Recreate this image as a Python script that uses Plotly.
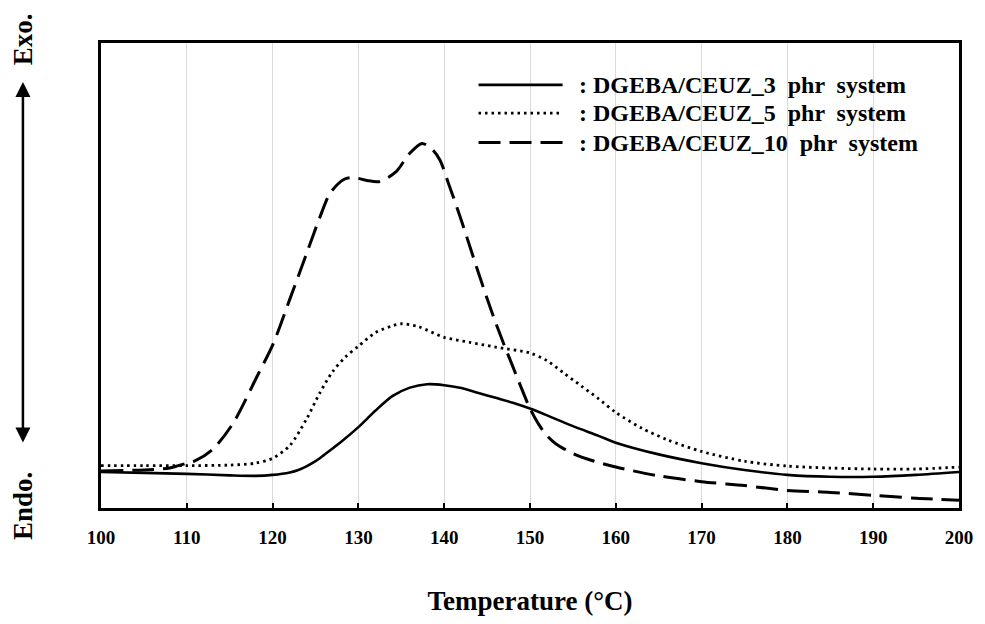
import plotly.graph_objects as go

# DSC exotherms (heat flow, arbitrary units) vs temperature
temp_3phr = [100, 105, 110, 115, 118, 120, 122, 123, 124, 125, 126, 128, 130, 132, 134, 136, 138,
             140, 142, 144, 146, 148, 150, 152, 155, 158, 160, 165, 170, 175, 180, 185,
             190, 195, 200]
flow_3phr = [7.2, 7.0, 6.8, 6.5, 6.4, 6.6, 7.1, 7.6, 8.4, 9.4, 10.7, 13.4, 16.4, 19.8, 22.8, 24.5, 25.2,
             25.0, 24.4, 23.4, 22.4, 21.4, 20.2, 18.8, 16.6, 14.6, 13.2, 10.8, 9.0, 7.6, 6.6, 6.2,
             6.2, 6.6, 7.2]

temp_5phr = [100, 105, 110, 115, 118, 120, 122, 124, 125.5, 127, 128.5, 130, 132, 134, 135,
             137, 140, 143, 146, 150, 152, 154, 156, 158, 160, 163, 166, 170, 175, 180,
             185, 190, 195, 200]
flow_5phr = [8.5, 8.5, 8.5, 8.6, 9.0, 10.0, 12.6, 18.2, 23.4, 27.8, 30.8, 33.0, 35.8, 37.2, 37.6,
             37.0, 34.8, 33.8, 32.8, 31.6, 30.0, 27.4, 24.8, 22.2, 19.4, 16.2, 13.8, 11.4, 9.4, 8.4,
             8.0, 7.8, 7.8, 8.2]

temp_10phr = [100, 105, 108, 110, 111, 113, 115.4, 118.3, 120, 122, 124, 125.5, 126.7, 128.3,
              129.4, 131, 132.5, 134.4, 135.9, 137.4, 138.6, 139.5, 140.5, 142, 143, 144, 145,
              146, 147, 148, 149, 150, 151, 152, 153, 155, 157.5, 160, 165, 170, 175, 180,
              185, 190, 195, 200]
flow_10phr = [7.4, 7.6, 8.0, 9.0, 9.5, 11.8, 17.2, 27.2, 33.2, 42.6, 52.2, 59.4, 64.4, 67.2,
              67.6, 67.0, 66.8, 68.8, 72.4, 74.6, 73.4, 71.2, 66.4, 58.8, 53.4, 48.0, 42.8,
              37.8, 33.2, 28.8, 24.4, 20.2, 17.0, 14.6, 13.0, 11.0, 9.4, 8.2, 6.4, 5.2, 4.4, 3.4,
              3.0, 2.4, 1.8, 1.4]

series_names = ["DGEBA/CEUZ_3 phr system",
                "DGEBA/CEUZ_5 phr system",
                "DGEBA/CEUZ_10 phr system"]
x_ticks = [100, 110, 120, 130, 140, 150, 160, 170, 180, 190, 200]

FONT = "Liberation Serif"
NB = "\u00a0"
styles = [dict(width=2.6, dash="solid"),
          dict(width=2.8, dash="2.5px,4px"),
          dict(width=3, dash="22px,9px")]

fig = go.Figure()
for xs, ys, name, st in zip([temp_3phr, temp_5phr, temp_10phr],
                            [flow_3phr, flow_5phr, flow_10phr], series_names, styles):
    fig.add_trace(go.Scatter(x=xs, y=ys, mode="lines", name=name,
                             line=dict(color="black", shape="spline", smoothing=0.8, **st),
                             showlegend=False))

# Hand-placed legend: sample line + label for each series
legend_rows = [0.910, 0.849, 0.786]
for name, st, yr in zip(series_names, styles, legend_rows):
    fig.add_shape(type="line", xref="paper", yref="paper",
                  x0=0.440, x1=0.538, y0=yr, y1=yr,
                  line=dict(color="black", width=st["width"], dash=st["dash"]))
    label = ":" + NB + name.replace(" ", " " + NB)
    fig.add_annotation(xref="paper", yref="paper", x=0.555, y=yr,
                       text=f"<b>{label}</b>", showarrow=False, xanchor="left", yanchor="middle",
                       font=dict(family=FONT, size=24, color="black"))

# Exo / Endo direction marker
fig.add_annotation(xref="paper", yref="paper", x=-0.091, y=1.008,
                   text="<b>Exo.</b>", textangle=-90, showarrow=False,
                   xanchor="center", yanchor="middle",
                   font=dict(family=FONT, size=27, color="black"))
fig.add_annotation(xref="paper", yref="paper", x=-0.091, y=0.004,
                   text="<b>Endo.</b>", textangle=-90, showarrow=False,
                   xanchor="center", yanchor="middle",
                   font=dict(family=FONT, size=27, color="black"))
fig.add_annotation(xref="paper", yref="paper", x=-0.091, y=0.916,
                   ax=0, ay=362, axref="pixel", ayref="pixel",
                   text="", showarrow=True, arrowhead=2, arrowside="end+start",
                   arrowsize=1.2, arrowwidth=2.5, arrowcolor="black")

fig.update_layout(
    width=985, height=624,
    margin=dict(l=101, r=16, t=43, b=104),
    paper_bgcolor="white", plot_bgcolor="white",
    font=dict(family=FONT, color="black"),
    xaxis=dict(range=[100, 200], tickvals=x_ticks, ticktext=[f"<b>{v}</b>" for v in x_ticks],
               tickfont=dict(family=FONT, size=19, color="black"),
               ticks="inside", ticklen=5, tickwidth=2, tickcolor="black",
               ticklabelstandoff=10,
               showgrid=True, gridcolor="#d9d9d9", gridwidth=1,
               showline=True, linecolor="black", linewidth=3, mirror=True,
               zeroline=False,
               title=dict(text="<b>Temperature" + NB + "(°C)</b>", standoff=45,
                          font=dict(family=FONT, size=27, color="black"))),
    yaxis=dict(range=[-0.2, 95.2], showticklabels=False, ticks="", showgrid=False,
               showline=True, linecolor="black", linewidth=3, mirror=True, zeroline=False),
)

fig.write_html("out.html")
